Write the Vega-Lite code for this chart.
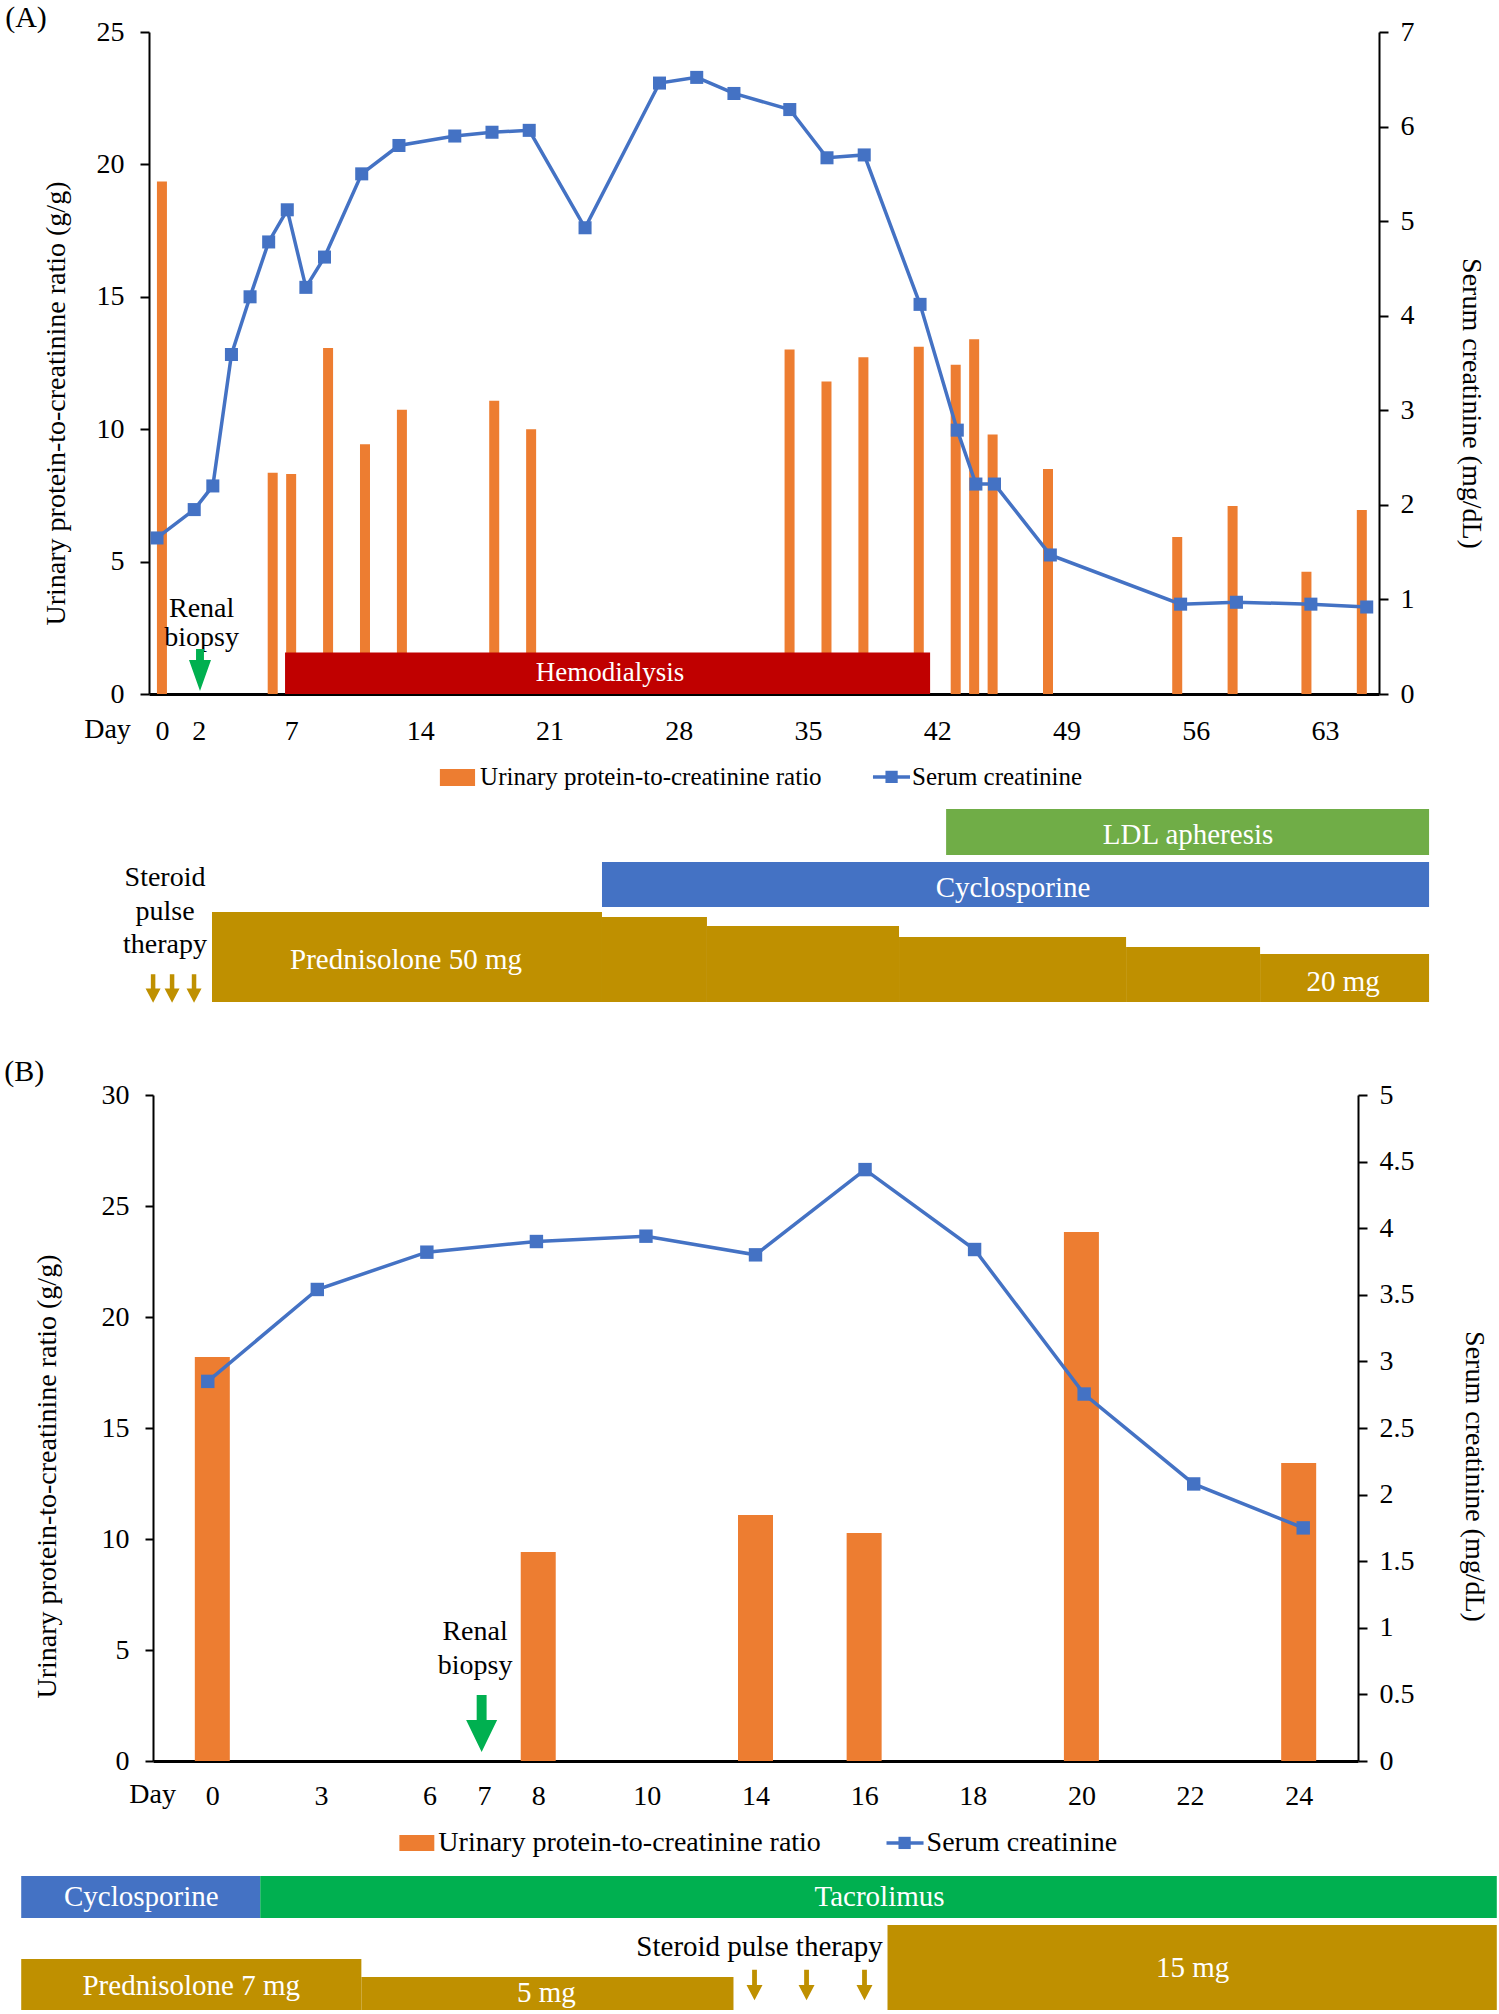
{
"$schema":"https://vega.github.io/schema/vega-lite/v6.json",
"width":1499,"height":2014,"autosize":{"type":"none"},"padding":0,"background":"white",
"config":{"view":{"stroke":null},"font":"Liberation Serif",
 "axis":{"grid":false,"labelFont":"Liberation Serif","titleFont":"Liberation Serif","labelFontSize":28,"titleFontSize":28,"titleFontWeight":"normal","labelColor":"#000","titleColor":"#000","domainColor":"#000","tickColor":"#000","labelFlush":false,"labelOverlap":false},
 "text":{"font":"Liberation Serif","baseline":"middle","align":"center"}},
"datasets":{
 "aBars":[{"day":0,"upcr":19.35},{"day":6,"upcr":8.36},{"day":7,"upcr":8.31},{"day":9,"upcr":13.07},{"day":11,"upcr":9.43},{"day":13,"upcr":10.73},{"day":18,"upcr":11.07},{"day":20,"upcr":10.0},{"day":34,"upcr":13.01},{"day":36,"upcr":11.8},{"day":38,"upcr":12.72},{"day":41,"upcr":13.11},{"day":43,"upcr":12.43},{"day":44,"upcr":13.4},{"day":45,"upcr":9.8},{"day":48,"upcr":8.5},{"day":55,"upcr":5.93},{"day":58,"upcr":7.1},{"day":62,"upcr":4.62},{"day":65,"upcr":6.95}],
 "aCr":[{"day":0,"cr":1.65},{"day":2,"cr":1.95},{"day":3,"cr":2.2},{"day":4,"cr":3.59},{"day":5,"cr":4.2},{"day":6,"cr":4.78},{"day":7,"cr":5.12},{"day":8,"cr":4.3},{"day":9,"cr":4.62},{"day":11,"cr":5.5},{"day":13,"cr":5.8},{"day":16,"cr":5.9},{"day":18,"cr":5.94},{"day":20,"cr":5.96},{"day":23,"cr":4.93},{"day":27,"cr":6.46},{"day":29,"cr":6.52},{"day":31,"cr":6.35},{"day":34,"cr":6.18},{"day":36,"cr":5.67},{"day":38,"cr":5.7},{"day":41,"cr":4.12},{"day":43,"cr":2.79},{"day":44,"cr":2.22},{"day":45,"cr":2.22},{"day":48,"cr":1.47},{"day":55,"cr":0.95},{"day":58,"cr":0.97},{"day":62,"cr":0.95},{"day":65,"cr":0.92}],
 "aHd":[{"start":6.88,"end":41.54,"lo":0,"hi":1.57}],
 "aWhite":[{"x":24.34,"y":0.79,"label":"Hemodialysis"}],
 "aBlack":[{"x":2.4,"y":3.21,"label":"Renal"},{"x":2.4,"y":2.11,"label":"biopsy"},{"x":-2.66,"y":-1.36,"label":"Day"}],
 "aTag":[{"x":-7.04,"y":25.53,"label":"(A)"}],
 "aLegText":[{"x":17.36,"y":-3.13,"label":"Urinary protein-to-creatinine ratio"},{"x":40.57,"y":-3.13,"label":"Serum creatinine"}],
 "aLegBox":[{"start":15.2,"end":17.09,"lo":-2.83,"hi":-3.47}],
 "aLegLine":[{"start":38.47,"end":40.46,"y":-3.13}],
 "aLegPt":[{"x":39.47,"y":-3.13}],
 "aBiopsy":[{"x":2.31,"y":0.906}],
 "aLane":[{"agent":"LDL apheresis","start":42.4,"end":68.35,"lo":73.5,"hi":96.5},{"agent":"Cyclosporine","start":23.91,"end":68.35,"lo":47.5,"hi":70},{"agent":"Prednisolone","start":2.955,"end":23.91,"lo":0,"hi":45},{"agent":"Prednisolone","start":23.91,"end":29.55,"lo":0,"hi":42.5},{"agent":"Prednisolone","start":29.55,"end":39.87,"lo":0,"hi":38},{"agent":"Prednisolone","start":39.87,"end":52.07,"lo":0,"hi":32.5},{"agent":"Prednisolone","start":52.07,"end":59.27,"lo":0,"hi":27.5},{"agent":"Prednisolone","start":59.27,"end":68.35,"lo":0,"hi":24}],
 "aLaneText":[{"x":55.4,"y":83.5,"label":"LDL apheresis"},{"x":46.0,"y":57,"label":"Cyclosporine"},{"x":13.38,"y":21,"label":"Prednisolone 50 mg"},{"x":63.73,"y":10,"label":"20 mg"}],
 "aSteroid":[{"x":0.43,"y":62,"label":"Steroid"},{"x":0.43,"y":45,"label":"pulse"},{"x":0.43,"y":28.5,"label":"therapy"}],
 "aPulse":[{"x":-0.21,"y":6.75},{"x":0.81,"y":6.75},{"x":1.99,"y":6.75}],
 "bBars":[{"idx":0,"day":0,"upcr":18.2},{"idx":3,"day":8,"upcr":9.41},{"idx":5,"day":14,"upcr":11.08},{"idx":6,"day":16,"upcr":10.27},{"idx":8,"day":20,"upcr":23.83},{"idx":10,"day":24,"upcr":13.42}],
 "bCr":[{"idx":0,"day":0,"cr":2.85},{"idx":1,"day":3,"cr":3.54},{"idx":2,"day":6,"cr":3.82},{"idx":3,"day":8,"cr":3.9},{"idx":4,"day":10,"cr":3.94},{"idx":5,"day":14,"cr":3.8},{"idx":6,"day":16,"cr":4.44},{"idx":7,"day":18,"cr":3.84},{"idx":8,"day":20,"cr":2.755},{"idx":9,"day":22,"cr":2.08},{"idx":10,"day":24,"cr":1.75}],
 "bBlack":[{"x":2.44,"y":5.81,"label":"Renal"},{"x":2.44,"y":4.28,"label":"biopsy"},{"x":-0.503,"y":-1.53,"label":"Day"}],
 "bTag":[{"x":-1.676,"y":31.04,"label":"(B)"}],
 "bLegText":[{"x":2.105,"y":-3.69,"label":"Urinary protein-to-creatinine ratio"},{"x":6.562,"y":-3.69,"label":"Serum creatinine"}],
 "bLegBox":[{"start":1.749,"end":2.068,"lo":-3.33,"hi":-4.05}],
 "bLegLine":[{"start":6.196,"end":6.534,"y":-3.69}],
 "bLegPt":[{"x":6.361,"y":-3.69}],
 "bBiopsy":[{"x":2.5,"y":1.69}],
 "bLane":[{"agent":"Cyclosporine","start":-1.703,"end":0.479,"lo":46,"hi":67},{"agent":"Tacrolimus","start":0.479,"end":11.767,"lo":46,"hi":67},{"agent":"Prednisolone","start":-1.703,"end":1.402,"lo":0,"hi":25.5},{"agent":"Prednisolone","start":1.402,"end":4.799,"lo":0,"hi":16.5},{"agent":"Prednisolone","start":6.205,"end":11.767,"lo":0,"hi":42.5}],
 "bLaneText":[{"x":-0.607,"y":56.5,"label":"Cyclosporine"},{"x":6.132,"y":56.5,"label":"Tacrolimus"},{"x":-0.151,"y":12,"label":"Prednisolone 7 mg"},{"x":3.091,"y":8.5,"label":"5 mg"},{"x":8.991,"y":21,"label":"15 mg"}],
 "bSteroid":[{"x":5.037,"y":31.5,"label":"Steroid pulse therapy"}],
 "bPulse":[{"x":4.991,"y":12.5},{"x":5.466,"y":12.5},{"x":5.995,"y":12.5}]
},
"layer":[
   {"data":{"name":"aBars"},"mark":{"type":"bar","width":10,"color":"#ED7D31"},
    "encoding":{"x":{"field":"day","type":"quantitative","scale":{"domain":[-0.43,65.66],"range":[149,1379],"nice":false,"zero":false},"axis":{"orient":"bottom","offset":-1320,"values":[0,2,7,14,21,28,35,42,49,56,63],"title":null,"ticks":false,"labelPadding":23,"domainWidth":3}},
     "y":{"field":"upcr","type":"quantitative","scale":{"domain":[0,25],"range":[694,32],"nice":false,"zero":false},"axis":{"orient":"left","offset":-149,"values":[0,5,10,15,20,25],"title":"Urinary protein-to-creatinine ratio (g/g)","tickSize":9,"tickWidth":2,"domainWidth":2,"labelPadding":16,"titleX":-93,"titleY":403,"titleAngle":-90,"titleBaseline":"middle","titleAlign":"center"}}}},
   {"data":{"name":"aHd"},"mark":{"type":"rect","color":"#C00000"},
    "encoding":{"x":{"field":"start","type":"quantitative","scale":{"domain":[-0.43,65.66],"range":[149,1379],"nice":false,"zero":false},"axis":null},"x2":{"field":"end"},"y":{"field":"lo","type":"quantitative","scale":{"domain":[0,25],"range":[694,32],"nice":false,"zero":false},"axis":null},"y2":{"field":"hi"}}},
   {"data":{"name":"aWhite"},"mark":{"type":"text","color":"white","fontSize":27},
    "encoding":{"x":{"field":"x","type":"quantitative","scale":{"domain":[-0.43,65.66],"range":[149,1379],"nice":false,"zero":false},"axis":null},"y":{"field":"y","type":"quantitative","scale":{"domain":[0,25],"range":[694,32],"nice":false,"zero":false},"axis":null},"text":{"field":"label"}}},
   {"data":{"name":"aBlack"},"mark":{"type":"text","color":"black","fontSize":28},
    "encoding":{"x":{"field":"x","type":"quantitative","scale":{"domain":[-0.43,65.66],"range":[149,1379],"nice":false,"zero":false},"axis":null},"y":{"field":"y","type":"quantitative","scale":{"domain":[0,25],"range":[694,32],"nice":false,"zero":false},"axis":null},"text":{"field":"label"}}},
   {"data":{"name":"aTag"},"mark":{"type":"text","color":"black","fontSize":30},
    "encoding":{"x":{"field":"x","type":"quantitative","scale":{"domain":[-0.43,65.66],"range":[149,1379],"nice":false,"zero":false},"axis":null},"y":{"field":"y","type":"quantitative","scale":{"domain":[0,25],"range":[694,32],"nice":false,"zero":false},"axis":null},"text":{"field":"label"}}},
   {"data":{"name":"aLegText"},"mark":{"type":"text","color":"black","fontSize":25,"align":"left"},
    "encoding":{"x":{"field":"x","type":"quantitative","scale":{"domain":[-0.43,65.66],"range":[149,1379],"nice":false,"zero":false},"axis":null},"y":{"field":"y","type":"quantitative","scale":{"domain":[0,25],"range":[694,32],"nice":false,"zero":false},"axis":null},"text":{"field":"label"}}},
   {"data":{"name":"aLegBox"},"mark":{"type":"rect","color":"#ED7D31"},
    "encoding":{"x":{"field":"start","type":"quantitative","scale":{"domain":[-0.43,65.66],"range":[149,1379],"nice":false,"zero":false},"axis":null},"x2":{"field":"end"},"y":{"field":"lo","type":"quantitative","scale":{"domain":[0,25],"range":[694,32],"nice":false,"zero":false},"axis":null},"y2":{"field":"hi"}}},
   {"data":{"name":"aLegLine"},"mark":{"type":"rule","color":"#4472C4","strokeWidth":3.5},
    "encoding":{"x":{"field":"start","type":"quantitative","scale":{"domain":[-0.43,65.66],"range":[149,1379],"nice":false,"zero":false},"axis":null},"x2":{"field":"end"},"y":{"field":"y","type":"quantitative","scale":{"domain":[0,25],"range":[694,32],"nice":false,"zero":false},"axis":null}}},
   {"data":{"name":"aLegPt"},"mark":{"type":"point","shape":"square","size":150,"filled":true,"opacity":1,"color":"#4472C4"},
    "encoding":{"x":{"field":"x","type":"quantitative","scale":{"domain":[-0.43,65.66],"range":[149,1379],"nice":false,"zero":false},"axis":null},"y":{"field":"y","type":"quantitative","scale":{"domain":[0,25],"range":[694,32],"nice":false,"zero":false},"axis":null}}},
   {"data":{"name":"aBiopsy"},"mark":{"type":"point","shape":"M-0.36,-1.91L0.36,-1.91L0.36,-0.91L1,-0.91L0,1.91L-1,-0.91L-0.36,-0.91Z","size":484,"filled":true,"opacity":1,"color":"#00B050"},
    "encoding":{"x":{"field":"x","type":"quantitative","scale":{"domain":[-0.43,65.66],"range":[149,1379],"nice":false,"zero":false},"axis":null},"y":{"field":"y","type":"quantitative","scale":{"domain":[0,25],"range":[694,32],"nice":false,"zero":false},"axis":null}}},
   {"data":{"name":"aCr"},"mark":{"type":"line","color":"#4472C4","strokeWidth":3.5,"point":{"shape":"square","size":170,"filled":true,"opacity":1,"color":"#4472C4"}},
    "encoding":{"x":{"field":"day","type":"quantitative","scale":{"domain":[-0.43,65.66],"range":[149,1379],"nice":false,"zero":false},"axis":null},
     "y":{"field":"cr","type":"quantitative","scale":{"domain":[0,7],"range":[694,32],"nice":false,"zero":false},"axis":{"orient":"right","offset":-120,"values":[0,1,2,3,4,5,6,7],"title":"Serum creatinine (mg/dL)","tickSize":9,"tickWidth":2,"domainWidth":2,"labelPadding":12,"titleX":91,"titleY":403,"titleAngle":90,"titleBaseline":"middle","titleAlign":"center"}}}},
   {"data":{"name":"aLane"},"mark":{"type":"rect"},
    "encoding":{"x":{"field":"start","type":"quantitative","scale":{"domain":[-0.43,65.66],"range":[149,1379],"nice":false,"zero":false},"axis":null},"x2":{"field":"end"},"y":{"field":"lo","type":"quantitative","scale":{"domain":[0,100],"range":[1002,802],"nice":false,"zero":false},"axis":null},"y2":{"field":"hi"},
     "color":{"field":"agent","type":"nominal","scale":{"domain":["LDL apheresis","Cyclosporine","Tacrolimus","Prednisolone"],"range":["#70AD47","#4472C4","#00B050","#BF9000"]},"legend":null}}},
   {"data":{"name":"aLaneText"},"mark":{"type":"text","color":"white","fontSize":29},
    "encoding":{"x":{"field":"x","type":"quantitative","scale":{"domain":[-0.43,65.66],"range":[149,1379],"nice":false,"zero":false},"axis":null},"y":{"field":"y","type":"quantitative","scale":{"domain":[0,100],"range":[1002,802],"nice":false,"zero":false},"axis":null},"text":{"field":"label"}}},
   {"data":{"name":"aSteroid"},"mark":{"type":"text","color":"black","fontSize":28},
    "encoding":{"x":{"field":"x","type":"quantitative","scale":{"domain":[-0.43,65.66],"range":[149,1379],"nice":false,"zero":false},"axis":null},"y":{"field":"y","type":"quantitative","scale":{"domain":[0,100],"range":[1002,802],"nice":false,"zero":false},"axis":null},"text":{"field":"label"}}},
   {"data":{"name":"aPulse"},"mark":{"type":"point","shape":"M-0.3,-1.9L0.3,-1.9L0.3,0L1,0L0,1.9L-1,0L-0.3,0Z","size":225,"filled":true,"opacity":1,"color":"#BF9000"},
    "encoding":{"x":{"field":"x","type":"quantitative","scale":{"domain":[-0.43,65.66],"range":[149,1379],"nice":false,"zero":false},"axis":null},"y":{"field":"y","type":"quantitative","scale":{"domain":[0,100],"range":[1002,802],"nice":false,"zero":false},"axis":null}}},
   {"data":{"name":"bBars"},"mark":{"type":"bar","width":35,"color":"#ED7D31"},
    "encoding":{"x":{"field":"idx","type":"quantitative","scale":{"domain":[-0.5,10.5],"range":[153,1358],"nice":false,"zero":false},"axis":{"orient":"bottom","offset":-253,"values":[0,1,2,2.5,3,4,5,6,7,8,9,10],"labelExpr":"datum.value == 2.5 ? '7' : ['0','3','6','8','10','14','16','18','20','22','24'][datum.value]","title":null,"ticks":false,"labelPadding":21,"domainWidth":3}},
     "y":{"field":"upcr","type":"quantitative","scale":{"domain":[0,30],"range":[1761,1095],"nice":false,"zero":false},"axis":{"orient":"left","offset":-153,"values":[0,5,10,15,20,25,30],"title":"Urinary protein-to-creatinine ratio (g/g)","tickSize":8,"tickWidth":2,"domainWidth":2,"labelPadding":16,"titleX":-106,"titleY":1476,"titleAngle":-90,"titleBaseline":"middle","titleAlign":"center"}}}},
   {"data":{"name":"bBlack"},"mark":{"type":"text","color":"black","fontSize":28},
    "encoding":{"x":{"field":"x","type":"quantitative","scale":{"domain":[-0.5,10.5],"range":[153,1358],"nice":false,"zero":false},"axis":null},"y":{"field":"y","type":"quantitative","scale":{"domain":[0,30],"range":[1761,1095],"nice":false,"zero":false},"axis":null},"text":{"field":"label"}}},
   {"data":{"name":"bTag"},"mark":{"type":"text","color":"black","fontSize":30},
    "encoding":{"x":{"field":"x","type":"quantitative","scale":{"domain":[-0.5,10.5],"range":[153,1358],"nice":false,"zero":false},"axis":null},"y":{"field":"y","type":"quantitative","scale":{"domain":[0,30],"range":[1761,1095],"nice":false,"zero":false},"axis":null},"text":{"field":"label"}}},
   {"data":{"name":"bLegText"},"mark":{"type":"text","color":"black","fontSize":28,"align":"left"},
    "encoding":{"x":{"field":"x","type":"quantitative","scale":{"domain":[-0.5,10.5],"range":[153,1358],"nice":false,"zero":false},"axis":null},"y":{"field":"y","type":"quantitative","scale":{"domain":[0,30],"range":[1761,1095],"nice":false,"zero":false},"axis":null},"text":{"field":"label"}}},
   {"data":{"name":"bLegBox"},"mark":{"type":"rect","color":"#ED7D31"},
    "encoding":{"x":{"field":"start","type":"quantitative","scale":{"domain":[-0.5,10.5],"range":[153,1358],"nice":false,"zero":false},"axis":null},"x2":{"field":"end"},"y":{"field":"lo","type":"quantitative","scale":{"domain":[0,30],"range":[1761,1095],"nice":false,"zero":false},"axis":null},"y2":{"field":"hi"}}},
   {"data":{"name":"bLegLine"},"mark":{"type":"rule","color":"#4472C4","strokeWidth":3.5},
    "encoding":{"x":{"field":"start","type":"quantitative","scale":{"domain":[-0.5,10.5],"range":[153,1358],"nice":false,"zero":false},"axis":null},"x2":{"field":"end"},"y":{"field":"y","type":"quantitative","scale":{"domain":[0,30],"range":[1761,1095],"nice":false,"zero":false},"axis":null}}},
   {"data":{"name":"bLegPt"},"mark":{"type":"point","shape":"square","size":150,"filled":true,"opacity":1,"color":"#4472C4"},
    "encoding":{"x":{"field":"x","type":"quantitative","scale":{"domain":[-0.5,10.5],"range":[153,1358],"nice":false,"zero":false},"axis":null},"y":{"field":"y","type":"quantitative","scale":{"domain":[0,30],"range":[1761,1095],"nice":false,"zero":false},"axis":null}}},
   {"data":{"name":"bBiopsy"},"mark":{"type":"point","shape":"M-0.32,-1.84L0.32,-1.84L0.32,-0.23L1,-0.23L0,1.84L-1,-0.23L-0.32,-0.23Z","size":961,"filled":true,"opacity":1,"color":"#00B050"},
    "encoding":{"x":{"field":"x","type":"quantitative","scale":{"domain":[-0.5,10.5],"range":[153,1358],"nice":false,"zero":false},"axis":null},"y":{"field":"y","type":"quantitative","scale":{"domain":[0,30],"range":[1761,1095],"nice":false,"zero":false},"axis":null}}},
   {"data":{"name":"bCr"},"mark":{"type":"line","color":"#4472C4","strokeWidth":3.5,"point":{"shape":"square","size":180,"filled":true,"opacity":1,"color":"#4472C4"}},
    "encoding":{"x":{"field":"idx","type":"quantitative","scale":{"domain":[-0.5,10.5],"range":[153,1358],"nice":false,"zero":false},"axis":null},
     "y":{"field":"cr","type":"quantitative","scale":{"domain":[0,5],"range":[1761,1095],"nice":false,"zero":false},"axis":{"orient":"right","offset":-141,"values":[0,0.5,1,1.5,2,2.5,3,3.5,4,4.5,5],"format":"~g","title":"Serum creatinine (mg/dL)","tickSize":9,"tickWidth":2,"domainWidth":2,"labelPadding":12,"titleX":115,"titleY":1476,"titleAngle":90,"titleBaseline":"middle","titleAlign":"center"}}}},
   {"data":{"name":"bLane"},"mark":{"type":"rect"},
    "encoding":{"x":{"field":"start","type":"quantitative","scale":{"domain":[-0.5,10.5],"range":[153,1358],"nice":false,"zero":false},"axis":null},"x2":{"field":"end"},"y":{"field":"lo","type":"quantitative","scale":{"domain":[0,100],"range":[2010,1810],"nice":false,"zero":false},"axis":null},"y2":{"field":"hi"},
     "color":{"field":"agent","type":"nominal","scale":{"domain":["LDL apheresis","Cyclosporine","Tacrolimus","Prednisolone"],"range":["#70AD47","#4472C4","#00B050","#BF9000"]},"legend":null}}},
   {"data":{"name":"bLaneText"},"mark":{"type":"text","color":"white","fontSize":29},
    "encoding":{"x":{"field":"x","type":"quantitative","scale":{"domain":[-0.5,10.5],"range":[153,1358],"nice":false,"zero":false},"axis":null},"y":{"field":"y","type":"quantitative","scale":{"domain":[0,100],"range":[2010,1810],"nice":false,"zero":false},"axis":null},"text":{"field":"label"}}},
   {"data":{"name":"bSteroid"},"mark":{"type":"text","color":"black","fontSize":29},
    "encoding":{"x":{"field":"x","type":"quantitative","scale":{"domain":[-0.5,10.5],"range":[153,1358],"nice":false,"zero":false},"axis":null},"y":{"field":"y","type":"quantitative","scale":{"domain":[0,100],"range":[2010,1810],"nice":false,"zero":false},"axis":null},"text":{"field":"label"}}},
   {"data":{"name":"bPulse"},"mark":{"type":"point","shape":"M-0.3,-1.9L0.3,-1.9L0.3,0L1,0L0,1.9L-1,0L-0.3,0Z","size":256,"filled":true,"opacity":1,"color":"#BF9000"},
    "encoding":{"x":{"field":"x","type":"quantitative","scale":{"domain":[-0.5,10.5],"range":[153,1358],"nice":false,"zero":false},"axis":null},"y":{"field":"y","type":"quantitative","scale":{"domain":[0,100],"range":[2010,1810],"nice":false,"zero":false},"axis":null}}}
],
"resolve":{"scale":{"x":"independent","y":"independent"}}
}
